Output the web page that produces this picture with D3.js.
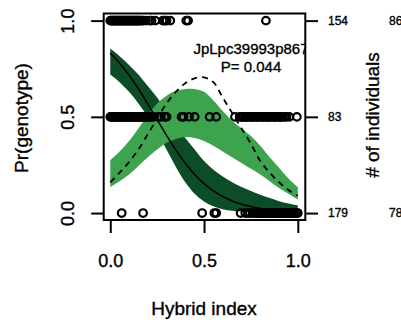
<!DOCTYPE html>
<html><head><meta charset="utf-8">
<script src="https://cdn.jsdelivr.net/npm/d3@7"></script>
<style>
body{margin:0;background:#fff}
svg{display:block}
text{font-family:"Liberation Sans",Arial,Helvetica,sans-serif;fill:#000;stroke:#000;stroke-width:0.35px}
</style>
</head><body>
<svg id="chart" width="401" height="323"></svg>
<script>
// ---- data ----
const gridX   = [0,0.05,0.1,0.15,0.2,0.25,0.3,0.35,0.4,0.45,0.5,0.55,0.6,0.65,0.7,0.75,0.8,0.85,0.9,0.95,1];
// homozygote (dark) : mean, CI
const homMean = [0.831,0.779,0.717,0.646,0.567,0.485,0.404,0.327,0.259,0.201,0.153,0.115,0.086,0.063,0.046,0.034,0.024,0.018,0.013,0.009,0.007];
const homHi   = [0.855,0.815,0.77,0.72,0.66,0.60,0.53,0.46,0.39,0.33,0.27,0.225,0.19,0.16,0.135,0.115,0.095,0.078,0.062,0.05,0.04];
const homLo   = [0.72,0.68,0.63,0.57,0.50,0.42,0.33,0.24,0.16,0.10,0.06,0.035,0.02,0.012,0.008,0.005,0.003,0.002,0.0015,0.001,0.001];
// heterozygote (light) : mean, CI
const hetMean = [0.16,0.21,0.265,0.33,0.41,0.49,0.57,0.63,0.675,0.70,0.705,0.68,0.60,0.52,0.44,0.36,0.27,0.21,0.16,0.12,0.09];
const hetHi   = [0.275,0.32,0.375,0.44,0.51,0.57,0.61,0.635,0.645,0.645,0.63,0.585,0.53,0.48,0.44,0.40,0.35,0.29,0.235,0.18,0.135];
const hetLo   = [0.135,0.165,0.20,0.245,0.29,0.33,0.365,0.385,0.395,0.39,0.375,0.35,0.32,0.29,0.26,0.23,0.20,0.165,0.13,0.10,0.07];
// observed individuals (hybrid index) by genotype value
const obsY1  = [0,0.005,0.01,0.015,0.02,0.025,0.03,0.035,0.04,0.045,0.05,0.055,0.06,0.065,0.07,0.075,0.08,0.085,0.09,0.095,0.1,0.105,0.11,0.115,0.12,0.125,0.13,0.135,0.14,0.145,0.15,0.155,0.16,0.17,0.175,0.19,0.21,0.22,0.24,0.28,0.29,0.30,0.32,0.405,0.415,0.83];
const obsY05 = [0,0.005,0.01,0.015,0.02,0.025,0.03,0.035,0.04,0.045,0.05,0.055,0.06,0.065,0.07,0.075,0.08,0.085,0.09,0.095,0.1,0.105,0.11,0.115,0.12,0.125,0.13,0.135,0.14,0.145,0.15,0.155,0.16,0.165,0.17,0.175,0.18,0.185,0.19,0.195,0.2,0.21,0.22,0.23,0.255,0.27,0.29,0.30,0.38,0.39,0.42,0.45,0.53,0.565,0.665,0.69,0.70,0.705,0.71,0.72,0.725,0.73,0.74,0.75,0.755,0.76,0.77,0.78,0.785,0.79,0.80,0.81,0.815,0.82,0.83,0.84,0.845,0.85,0.86,0.87,0.875,0.88,0.89,0.90,0.905,0.91,0.92,0.93,0.94,0.955,0.995];
const obsY0  = [0.061,0.175,0.49,0.555,0.565,0.695,0.72,0.735,0.745,0.76,0.77,0.78,0.79,0.795,0.80,0.81,0.815,0.82,0.83,0.84,0.845,0.85,0.86,0.87,0.875,0.88,0.89,0.90,0.905,0.91,0.92,0.93,0.935,0.94,0.95,0.96,0.965,0.97,0.98,0.99,0.995,1.0];
const xTicks = [0,0.5,1];
const yTicks = [0,0.5,1];
const countsA = ["179","83","154"];   // right axis labels at y = 0, 0.5, 1
const countsB = ["78","","86"];
const markerName = "JpLpc39993p867";
const pLabel = "P= 0.044";

// ---- scales ----
const svg = d3.select("#chart");
const x = d3.scaleLinear().domain([-0.035,1.04]).range([103.7,305.3]);
const y = d3.scaleLinear().domain([-0.036,1.037]).range([220,13.5]);

const DARK = "#0c4d28", LIGHT = "#3da34f";

svg.append("clipPath").attr("id","plotclip").append("rect")
  .attr("x",x(-0.035)).attr("y",y(1.037)).attr("width",x(1.04)-x(-0.035)).attr("height",y(-0.036)-y(1.037));

const plot = svg.append("g").attr("clip-path","url(#plotclip)");

const idx = d3.range(gridX.length);
const band = (hi,lo)=>d3.area().x(i=>x(gridX[i])).y0(i=>y(lo[i])).y1(i=>y(hi[i])).curve(d3.curveCatmullRom);
const line = (m)=>d3.line().x(i=>x(gridX[i])).y(i=>y(m[i])).curve(d3.curveCatmullRom);

plot.append("path").attr("d",band(homHi,homLo)(idx)).attr("fill",DARK);
plot.append("path").attr("d",band(hetHi,hetLo)(idx)).attr("fill",LIGHT);
plot.append("path").attr("d",line(homMean)(idx)).attr("fill","none").attr("stroke","#000").attr("stroke-width",1.5);
plot.append("path").attr("d",line(hetMean)(idx)).attr("fill","none").attr("stroke","#000").attr("stroke-width",1.8).attr("stroke-dasharray","6,5");

const pts = [].concat(obsY1.map(v=>[v,1]), obsY05.map(v=>[v,0.5]), obsY0.map(v=>[v,0]));
plot.selectAll("circle.pt").data(pts).enter().append("circle")
  .attr("cx",d=>x(d[0])).attr("cy",d=>y(d[1])).attr("r",3.8)
  .attr("fill","none").attr("stroke","#000").attr("stroke-width",2.2);

plot.append("text").attr("x",251).attr("y",48).attr("text-anchor","middle")
  .attr("dominant-baseline","central").style("font-size","15px").text(markerName);
plot.append("text").attr("x",251).attr("y",66).attr("text-anchor","middle")
  .attr("dominant-baseline","central").style("font-size","15px").text(pLabel);

// box
svg.append("rect").attr("x",x(-0.035)).attr("y",y(1.037)).attr("width",x(1.04)-x(-0.035)).attr("height",y(-0.036)-y(1.037))
  .attr("fill","none").attr("stroke","#000").attr("stroke-width",2);

// bottom axis
const gx = svg.append("g").attr("transform",`translate(0,${y(-0.036)})`)
  .call(d3.axisBottom(x).tickValues(xTicks).tickSize(13).tickFormat(d3.format(".1f")));
gx.select(".domain").remove();
gx.selectAll("line").attr("stroke-width",2);
gx.selectAll("text").attr("y",41).attr("dy","0.35em").style("font-size","18px");

// left axis
const gy = svg.append("g").attr("transform",`translate(${x(-0.035)},0)`)
  .call(d3.axisLeft(y).tickValues(yTicks).tickSize(12.5).tickFormat(d3.format(".1f")));
gy.select(".domain").remove();
gy.selectAll("line").attr("stroke-width",2);
gy.selectAll("text").attr("x",0).attr("dy","0.35em").attr("text-anchor","middle")
  .attr("transform","translate(-36,0) rotate(-90)").style("font-size","18px");

// right axis
const gr = svg.append("g").attr("transform",`translate(${x(1.04)},0)`)
  .call(d3.axisRight(y).tickValues(yTicks).tickSize(12.7).tickPadding(10).tickFormat((d,i)=>countsA[i]));
gr.select(".domain").remove();
gr.selectAll("line").attr("stroke-width",2);
gr.selectAll("text").style("font-size","12px");
svg.selectAll("text.cb").data(yTicks).enter().append("text").attr("class","cb")
  .attr("x",389).attr("y",d=>y(d)).attr("dy","0.35em").style("font-size","12px").text((d,i)=>countsB[i]);

// titles
svg.append("text").attr("transform","translate(21,118) rotate(-90)").attr("text-anchor","middle")
  .attr("dominant-baseline","central").style("font-size","19px").text("Pr(genotype)");
svg.append("text").attr("x",204).attr("y",315).attr("text-anchor","middle").style("font-size","19px").text("Hybrid index");
svg.append("text").attr("transform","translate(372,115) rotate(-90)").attr("text-anchor","middle")
  .attr("dominant-baseline","central").style("font-size","19px").text("# of individuals");
</script>
</body></html>
